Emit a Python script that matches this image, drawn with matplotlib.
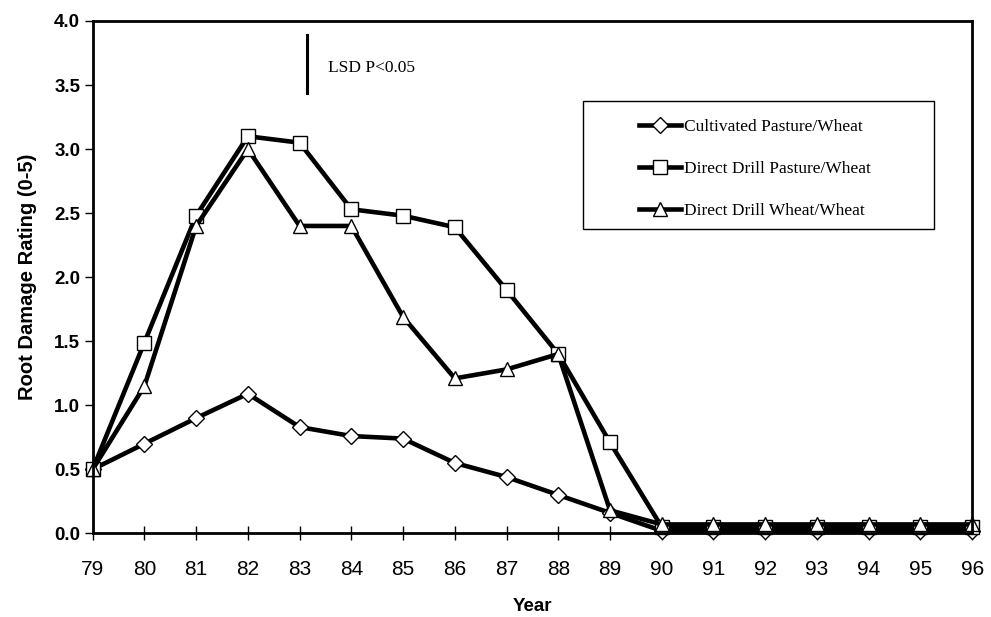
import matplotlib
matplotlib.use("Agg")
import matplotlib.pyplot as plt
from matplotlib.patches import Rectangle

# data
years = [79, 80, 81, 82, 83, 84, 85, 86, 87, 88, 89, 90, 91, 92, 93, 94, 95, 96]
cultivated = [0.50, 0.70, 0.90, 1.09, 0.83, 0.76, 0.74, 0.55, 0.44, 0.30, 0.16, 0.02,
              0.02, 0.02, 0.02, 0.02, 0.02, 0.02]
dd_pasture = [0.50, 1.49, 2.48, 3.10, 3.05, 2.53, 2.48, 2.39, 1.90, 1.40, 0.71, 0.05,
              0.05, 0.05, 0.05, 0.05, 0.05, 0.05]
dd_wheat = [0.50, 1.15, 2.40, 3.00, 2.40, 2.40, 1.69, 1.21, 1.28, 1.40, 0.18, 0.07,
            0.07, 0.07, 0.07, 0.07, 0.07, 0.07]
labels = ["Cultivated Pasture/Wheat", "Direct Drill Pasture/Wheat", "Direct Drill Wheat/Wheat"]
yticks = [0.0, 0.5, 1.0, 1.5, 2.0, 2.5, 3.0, 3.5, 4.0]

fig = plt.figure(figsize=(9.91, 6.17), dpi=100)
ax = fig.add_axes([0.0935, 0.1355, 0.8875, 0.8305])

style = dict(color="black", lw=3.3, markersize=10, markerfacecolor="white",
             markeredgecolor="black", markeredgewidth=1.0, clip_on=False)
ax.plot(years, cultivated, marker="D", label=labels[0], **dict(style, markersize=8.5))
ax.plot(years, dd_pasture, marker="s", label=labels[1], **style)
ax.plot(years, dd_wheat, marker="^", label=labels[2], **style)

# LSD bar
ax.plot([83.15, 83.15], [3.44, 3.89], color="black", lw=2.2)
ax.text(83.55, 3.63, "LSD P<0.05", family="Liberation Serif", fontsize=12.5,
        va="center", ha="left")

ax.set_xlim(79, 96)
ax.set_ylim(0, 4)
ax.set_xticks(years)
ax.set_xticklabels([str(y) for y in years], family="Liberation Sans", fontsize=15)
ax.set_yticks(yticks)
ax.set_yticklabels(["%.1f" % v for v in yticks], family="Liberation Sans",
                   fontsize=13.5, fontweight="bold")
ax.tick_params(axis="x", direction="inout", length=10, width=1, pad=14)
ax.tick_params(axis="y", direction="out", length=6, width=1, pad=3)
for s in ax.spines.values():
    s.set_linewidth(2)

ax.set_xlabel("Year", family="Liberation Sans", fontsize=13.5, fontweight="bold", labelpad=14)
ax.set_ylabel("Root Damage Rating (0-5)", family="Liberation Sans", fontsize=14.5,
              fontweight="bold", labelpad=12)

# legend box
ax.add_patch(Rectangle((0.5576, 0.594), 0.3994, 0.25, transform=ax.transAxes,
                       facecolor="white", edgecolor="black", lw=1.0, zorder=4))
leg = ax.legend(loc="center", bbox_to_anchor=(0.753, 0.711), frameon=False,
                prop={"family": "Liberation Serif", "size": 12.5}, numpoints=1,
                handlelength=2.4, handletextpad=0.15, labelspacing=1.48)
leg.set_zorder(5)

fig.savefig("out.png", dpi=100)
